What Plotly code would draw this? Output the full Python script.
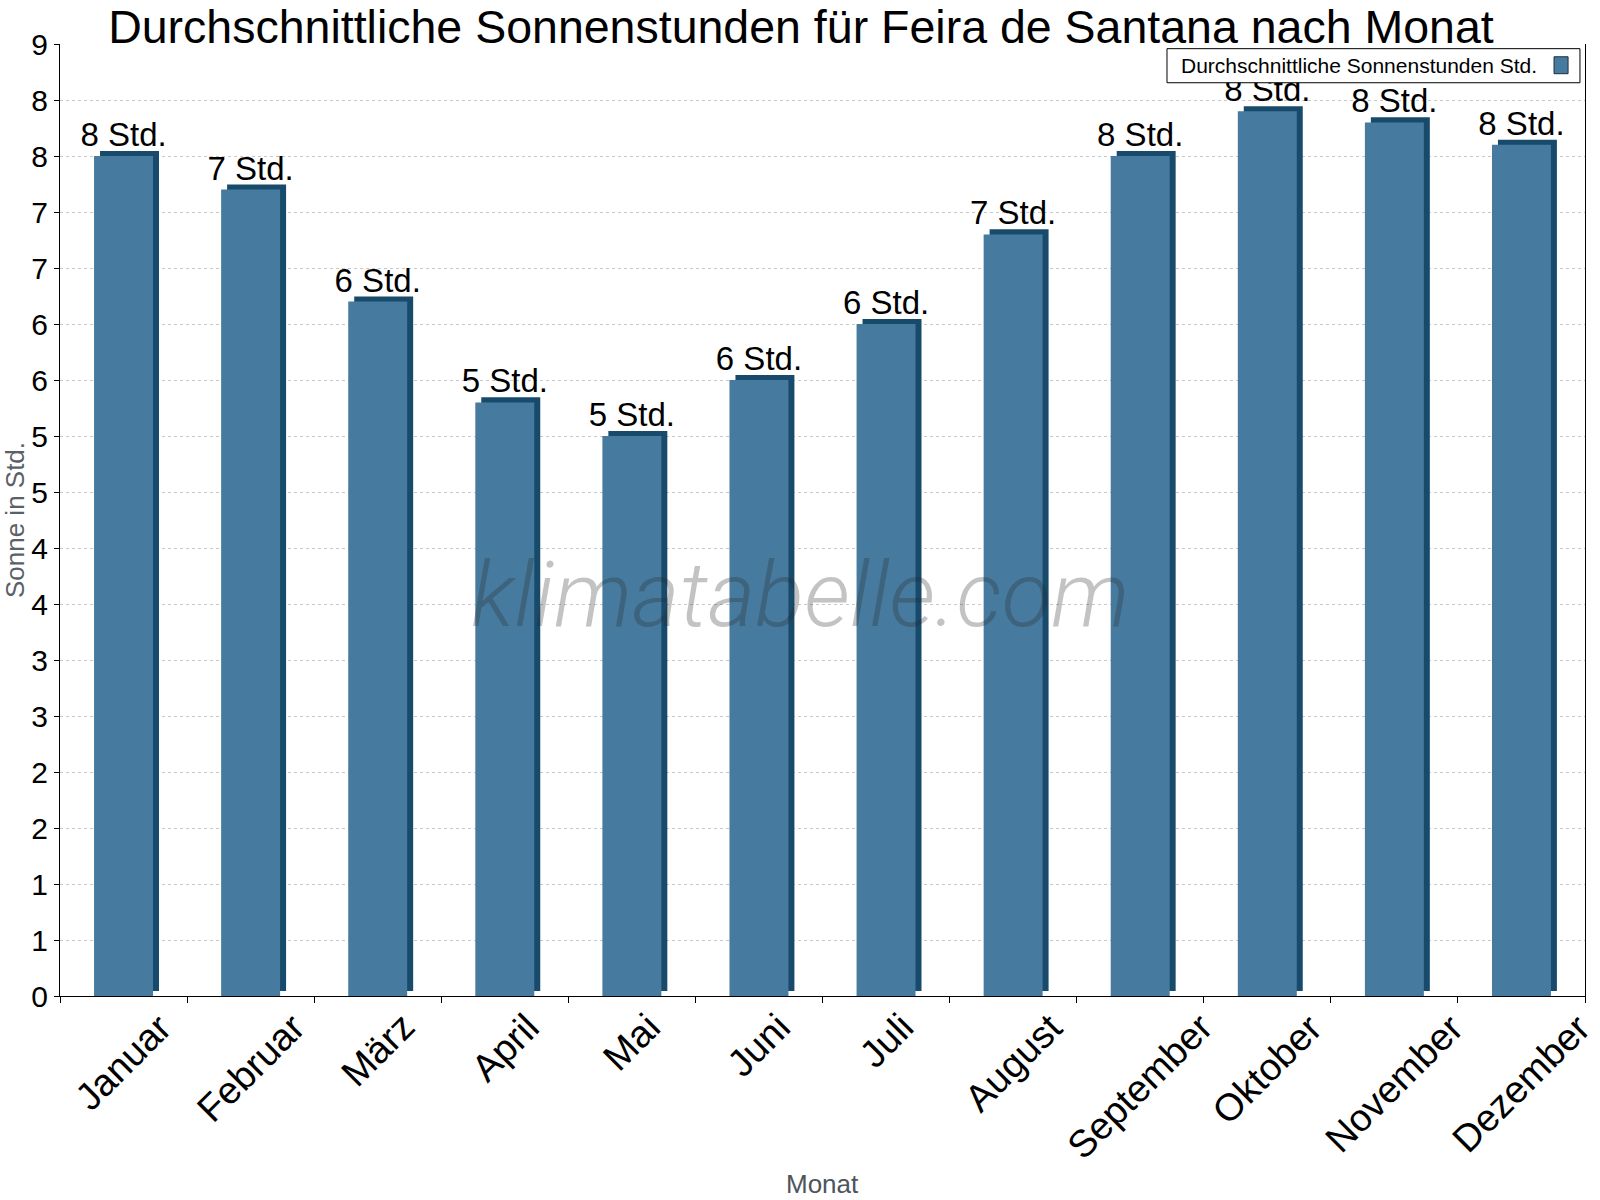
import plotly.graph_objects as go

# Durchschnittliche Sonnenstunden pro Monat (Feira de Santana)
monate = ["Januar", "Februar", "März", "April", "Mai", "Juni",
          "Juli", "August", "September", "Oktober", "November", "Dezember"]
sonne = [7.5, 7.2, 6.2, 5.3, 5.0, 5.5, 6.0, 6.8, 7.5, 7.9, 7.8, 7.6]

y_tick_vals = [0, 0.5, 1, 1.5, 2, 2.5, 3, 3.5, 4, 4.5, 5, 5.5, 6, 6.5, 7, 7.5, 8, 8.5]
y_tick_text = ["0", "1", "1", "2", "2", "3", "3", "4", "4", "5", "5", "6", "6", "7", "7", "8", "8", "9"]

labels = [f"{int(v + 0.5)} Std." for v in sonne]

FRONT = "#467a9e"
SIDE = "#184a6b"
FONT = "Liberation Sans, Arial, sans-serif"

fig = go.Figure()

# dunkle "3D"-Seite, leicht nach rechts oben versetzt
fig.add_trace(go.Bar(
    x=monate, y=sonne, base=0.045,
    offset=-0.185, width=0.464,
    marker=dict(color=SIDE, line=dict(width=0)),
    hoverinfo="skip", showlegend=False,
))

fig.add_trace(go.Bar(
    x=monate, y=sonne,
    offset=-0.232, width=0.464,
    marker=dict(color=FRONT, line=dict(width=0)),
    text=labels, textposition="outside", constraintext="none",
    textfont=dict(family=FONT, size=33, color="black"),
    cliponaxis=False,
    name="Durchschnittliche Sonnenstunden Std.",
    showlegend=False,
))

# Monatsnamen schräg, mittig unter der Kategorie
annotations = []
for m in monate:
    annotations.append(dict(
        x=m, xref="x", y=0, yref="paper", yshift=-7,
        text=m, textangle=-45, showarrow=False,
        xanchor="center", yanchor="top",
        font=dict(family=FONT, size=38, color="black"),
    ))

# Achsentitel x
annotations.append(dict(
    x=0.5, y=-0.197, xref="paper", yref="paper",
    text="Monat", showarrow=False, yanchor="middle",
    font=dict(family=FONT, size=26, color="#4d545c"),
))

# Wasserzeichen
annotations.append(dict(
    x=0.485, y=0.421, xref="paper", yref="paper",
    text="klimatabelle.com", showarrow=False,
    font=dict(family="Roboto Light, Roboto", size=91, color="rgba(40,40,40,0.28)",
              weight=300, style="italic"),
))

# Legende (Text links, Farbfeld rechts)
annotations.append(dict(
    x=0.7338, y=0.9772, xref="paper", yref="paper",
    text="Durchschnittliche Sonnenstunden Std.", showarrow=False,
    xanchor="left", yanchor="middle",
    font=dict(family=FONT, size=21, color="black"),
))

shapes = [
    dict(type="rect", xref="paper", yref="paper", layer="above",
         x0=0.7259, x1=0.9967, y0=0.9593, y1=0.9951,
         fillcolor="white", line=dict(color="black", width=1)),
    dict(type="rect", xref="paper", yref="paper", layer="above",
         x0=0.9797, x1=0.9889, y0=0.9688, y1=0.9866,
         fillcolor=FRONT, line=dict(color="#1c2e3c", width=1)),
]

fig.update_layout(
    width=1600, height=1200,
    margin=dict(l=60, r=15, t=44, b=204, autoexpand=False),
    paper_bgcolor="white", plot_bgcolor="white",
    barmode="overlay",
    title=dict(text="Durchschnittliche Sonnenstunden für Feira de Santana nach Monat",
               x=0.5006, xanchor="center", y=0.9775, yanchor="middle",
               font=dict(family=FONT, size=46.5, color="black")),
    annotations=annotations,
    shapes=shapes,
    showlegend=False,
)

fig.update_xaxes(
    type="category", showticklabels=False, range=[-0.5, 11.5],
    showline=True, linecolor="black", linewidth=1,
    ticks="outside", ticklen=6, tickcolor="black", tickson="boundaries",
    showgrid=False, zeroline=False, automargin=False,
)
fig.update_yaxes(
    range=[0, 8.5], tickvals=y_tick_vals, ticktext=y_tick_text,
    showline=True, linecolor="black", linewidth=1, mirror=True,
    ticks="outside", ticklen=5, tickcolor="black",
    tickfont=dict(family=FONT, size=30, color="black"),
    showgrid=True, gridcolor="#c8c8c8", griddash="dot", gridwidth=1,
    zeroline=False, automargin=False,
    title=dict(text="Sonne in Std.", standoff=2,
               font=dict(family=FONT, size=26, color="#5a6068")),
)

# Seitenrand entfernen, damit das Diagramm bei (0,0) beginnt
fig.write_html("out.html", config={"displayModeBar": False},
               post_script="document.body.style.margin='0px';")
